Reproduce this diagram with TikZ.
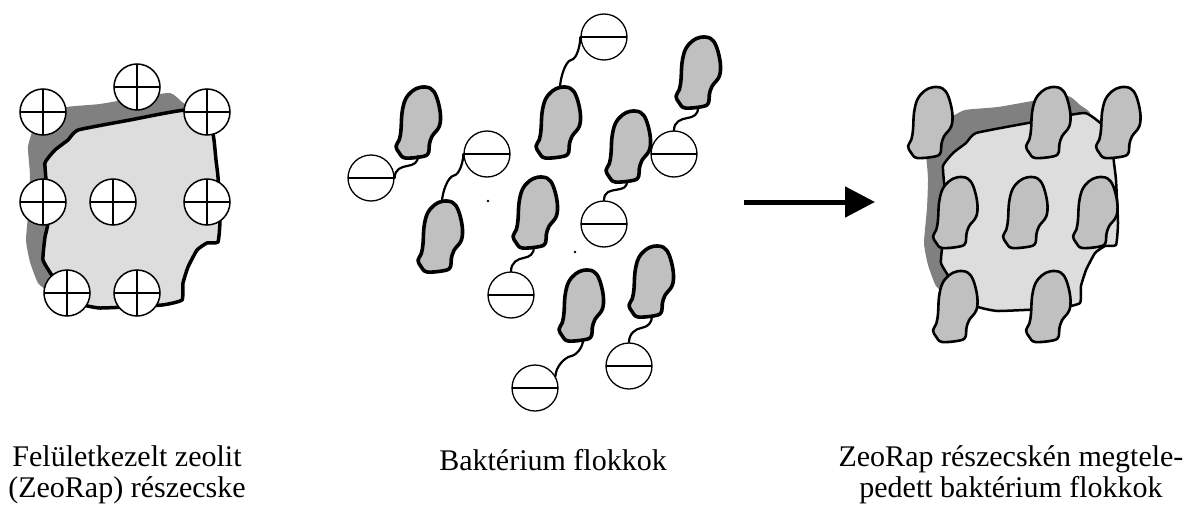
\documentclass[tikz,border=0pt]{standalone}
\usepackage{fontspec}
\setmainfont{Liberation Serif}
\usetikzlibrary{calc,arrows.meta}
\definecolor{zeolite}{HTML}{DDDDDD}
\definecolor{zshadow}{HTML}{808080}
\definecolor{bactfill}{HTML}{C0C0C0}

\tikzset{
  plus/.style={circle,draw,fill=white,line width=1.5pt,minimum size=46pt,inner sep=0pt,
    path picture={\draw[line width=1.5pt]
      (path picture bounding box.west)--(path picture bounding box.east)
      (path picture bounding box.north)--(path picture bounding box.south);}},
  minus/.style={circle,draw,fill=white,line width=1.3pt,minimum size=46pt,inner sep=0pt,
    path picture={\draw[line width=2pt]
      (path picture bounding box.west)--(path picture bounding box.east);}},
  flag/.style={line width=2.2pt,line cap=round,line join=round},
  caption/.style={font=\fontsize{30}{31}\selectfont,align=center,inner sep=0pt},
  bactfree/.style={draw,fill=bactfill,line width=3.6pt,line join=round},
  bactbound/.style={draw,fill=bactfill,line width=2.6pt,line join=round},
  bacterium/.pic={
    \path[pic actions] plot[smooth cycle,tension=0.6] coordinates{
      (2.3,-35.7) (12.3,-34.7) (18.3,-26.7) (22.3,-10) (21.3,3.3) (14,13.3)
      (11.3,21.7) (10.7,29.3) (5.7,33.3) (-12.7,35) (-18.7,30) (-22,23.3)
      (-18.7,16.7) (-17,6.7) (-16,-10) (-12.7,-23.3) (-6,-31.7)};
  },
  particle/.pic={
    % dark rim seen behind the grain
    \fill[zshadow] plot[smooth cycle,tension=0.3] coordinates{
      (190,112) (182,102) (170,93) (140,97) (100,104) (67,107) (50,116)
      (34,128) (28,147) (30,175) (29,205) (26,240) (30,262) (38,283)
      (50,292) (62,285) (60,200) (62,150) (100,125)};
    % the grain itself
    \path[pic actions,fill=zeolite] plot[smooth cycle,tension=0.25] coordinates{
      (78,130) (130,120) (187,110) (211,128) (214,140) (216,160) (218,177)
      (220,220) (218,242) (207,243) (197,250) (188,267) (183,283) (182,300)
      (162,305) (100,308) (77,303) (62,290) (53,277) (43,260) (45,237)
      (48,223) (47,190) (45,163) (55,150) (68,140)};
  },
}
% wavy flagellum between two points, running down and to the left
\newcommand{\flagellum}[2]{%
  \draw[flag] (#1) .. controls +(0,7) and +(6,-1) .. ($(#1)!.45!(#2)$)
    .. controls +(-6,1) and +(0,-9) .. (#2);}

\begin{document}
\begin{tikzpicture}[x=1pt,y=-1pt]
\useasboundingbox (0,0) rectangle (1199,511);

% ---------- treated zeolite grain with positive sites ----------
\pic[draw,line width=3.5pt,line join=round] at (0,0) {particle};
\node[plus] (p1) at (43,112) {};
\node[plus] (p2) at (137,87) {};
\node[plus] (p3) at (207,112) {};
\node[plus] (p4) at (43,202) {};
\node[plus] (p5) at (113,202) {};
\node[plus] (p6) at (207,202) {};
\node[plus] (p7) at (67,293) {};
\node[plus] (p8) at (137,293) {};

% ---------- free bacterial flocs ----------
\pic[bactfree] at (418,123) {bacterium};
\pic[bactfree] at (558,123) {bacterium};
\pic[bactfree] at (440,237) {bacterium};
\pic[bactfree] at (698,73) {bacterium};
\pic[bactfree] at (628,147) {bacterium};
\pic[bactfree] at (535,213) {bacterium};
\pic[bactfree] at (581,306) {bacterium};
\pic[bactfree] at (651,282) {bacterium};

\node[minus] (m1) at (371,178) {};
\node[minus] (m2) at (487,154) {};
\node[minus] (m3) at (604,37) {};
\node[minus] (m4) at (674,154) {};
\node[minus] (m5) at (604,224) {};
\node[minus] (m6) at (511,295) {};
\node[minus] (m7) at (535,388) {};
\node[minus] (m8) at (629,366) {};

% attachment points on the cells
\coordinate (b1) at (418,156);
\coordinate (b2) at (560,88);
\coordinate (b3) at (442,202);
\coordinate (b4) at (698,108);
\coordinate (b5) at (627,181);
\coordinate (b6) at (534,247);
\coordinate (b7) at (583,340);
\coordinate (b8) at (652,316);

\flagellum{b1}{m1.east}
\flagellum{m2.west}{b3}
\flagellum{m3.west}{b2}
\flagellum{b4}{m4.north}
\flagellum{b5}{m5.north}
\flagellum{b6}{m6.north}
\flagellum{b7}{m7.30}
\flagellum{b8}{m8.north}

\fill (488,201) circle (1.3);
\fill (575,252) circle (1.3);

% ---------- arrow ----------
\coordinate (a0) at (744,202);
\coordinate (a1) at (875,202);
\draw[line width=5pt,-{Triangle[length=30pt,width=30pt]}] (a0) -- (a1);

% ---------- colonised grain ----------
\pic[draw,line width=2.5pt,line join=round] at (898,3) {particle};
\pic[bactbound] at (930,123) {bacterium};
\pic[bactbound] at (1048,123) {bacterium};
\pic[bactbound] at (1118,123) {bacterium};
\pic[bactbound] at (955,213) {bacterium};
\pic[bactbound] at (1025,213) {bacterium};
\pic[bactbound] at (1095,213) {bacterium};
\pic[bactbound] at (955,307) {bacterium};
\pic[bactbound] at (1048,307) {bacterium};

% ---------- captions ----------
\node[caption] (c1) at (127,475) {Felületkezelt zeolit\\(ZeoRap) részecske};
\node[caption] (c2) at (553,460) {Baktérium flokkok};
\node[caption] (c3) at (1011,475) {ZeoRap részecskén megtele-\\pedett baktérium flokkok};
\end{tikzpicture}
\end{document}
